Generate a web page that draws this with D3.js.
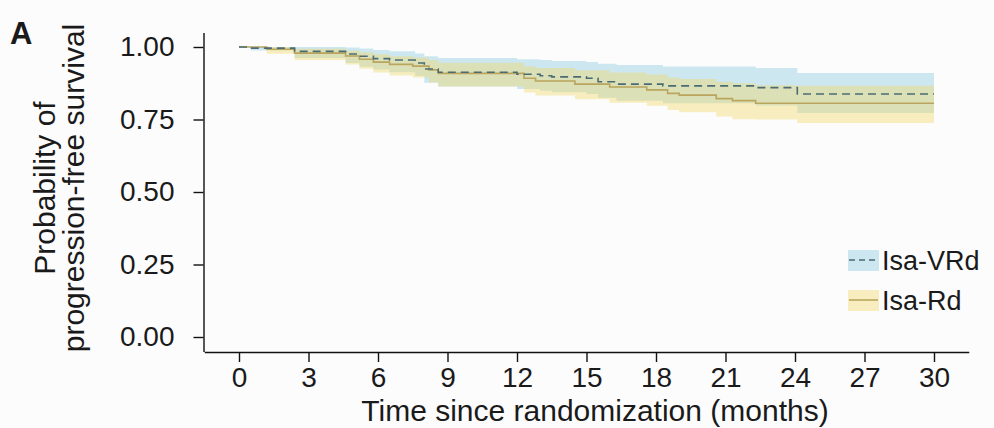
<!DOCTYPE html>
<html>
<head>
<meta charset="utf-8">
<script src="https://cdn.jsdelivr.net/npm/d3@7"></script>
<style>
  html, body { margin: 0; padding: 0; background: #fcfcfd; }
  svg { display: block; }
  text { font-family: "Liberation Sans", Arial, Helvetica, sans-serif; fill: #1a1a1a; }
</style>
</head>
<body>
<div id="chart"></div>
<script>
// ---- Data ----
const xTicks = [0, 3, 6, 9, 12, 15, 18, 21, 24, 27, 30];
const yTicks = [0, 0.25, 0.5, 0.75, 1];
const seriesNames = ["Isa-VRd", "Isa-Rd"];

const vrdTime  = [0, 0.5, 2.4, 4.6, 5.2, 5.8, 6.5, 7.6, 8.0, 8.6, 12.0, 13.0, 13.5, 15.0, 15.5, 16.3, 18.3, 22.3, 24.1, 30];
const vrdSurv  = [1, 0.996, 0.985, 0.976, 0.968, 0.960, 0.955, 0.945, 0.924, 0.913, 0.906, 0.901, 0.897, 0.892, 0.880, 0.872, 0.866, 0.860, 0.838, 0.838];
const vrdLower = [1, 0.988, 0.962, 0.945, 0.932, 0.922, 0.913, 0.900, 0.877, 0.864, 0.855, 0.849, 0.844, 0.838, 0.825, 0.815, 0.806, 0.798, 0.772, 0.772];
const vrdUpper = [1, 1, 1, 0.998, 0.995, 0.990, 0.985, 0.978, 0.968, 0.962, 0.958, 0.955, 0.952, 0.948, 0.942, 0.938, 0.933, 0.928, 0.910, 0.910];

const rdTime  = [0, 1.2, 2.4, 4.6, 5.2, 5.8, 6.5, 7.5, 8.2, 8.6, 12.3, 12.8, 14.5, 16.0, 17.6, 18.5, 19.0, 20.6, 21.3, 22.3, 24.1, 30];
const rdSurv  = [1, 0.992, 0.979, 0.969, 0.958, 0.948, 0.940, 0.934, 0.921, 0.909, 0.892, 0.883, 0.872, 0.862, 0.852, 0.840, 0.834, 0.822, 0.815, 0.806, 0.806, 0.806];
const rdLower = [1, 0.977, 0.955, 0.940, 0.925, 0.912, 0.902, 0.895, 0.878, 0.864, 0.843, 0.833, 0.820, 0.808, 0.797, 0.783, 0.775, 0.760, 0.751, 0.750, 0.738, 0.738];
const rdUpper = [1, 1, 0.994, 0.988, 0.982, 0.975, 0.968, 0.964, 0.955, 0.946, 0.934, 0.928, 0.920, 0.912, 0.905, 0.895, 0.890, 0.880, 0.875, 0.868, 0.866, 0.866];

// ---- Layout ----
const W = 994, H = 428;
const svg = d3.select("#chart").append("svg").attr("width", W).attr("height", H);
svg.append("rect").attr("width", W).attr("height", H).attr("fill", "#fcfcfd");

// scales with 5% expansion (ggplot style)
const x = d3.scaleLinear().domain([-1.5, 31.5]).range([204.25, 968.75]);
const y = d3.scaleLinear().domain([-0.05, 1.05]).range([351.5, 32.5]);

const rows = (t, s, lo, hi) => t.map((d, i) => ({ t: d, s: s[i], lo: lo[i], hi: hi[i] }));
const series = [
  { name: seriesNames[0], data: rows(vrdTime, vrdSurv, vrdLower, vrdUpper), line: "#4b6b74", fill: "#86c8de", dash: "8,5" },
  { name: seriesNames[1], data: rows(rdTime, rdSurv, rdLower, rdUpper), line: "#b9a55e", fill: "#efd65e", dash: null }
];

const area = d3.area().curve(d3.curveStepAfter).x(d => x(d.t)).y0(d => y(d.lo)).y1(d => y(d.hi));
const line = d3.line().curve(d3.curveStepAfter).x(d => x(d.t)).y(d => y(d.s));

const plot = svg.append("g");
series.forEach(s => {
  plot.append("path").attr("d", area(s.data)).attr("fill", s.fill).attr("fill-opacity", 0.4);
});
series.slice().reverse().forEach(s => {
  plot.append("path").attr("d", line(s.data)).attr("fill", "none")
    .attr("stroke", s.line).attr("stroke-width", 1.6)
    .attr("stroke-dasharray", s.dash);
});

// ---- Axes ----
const yAxis = svg.append("g").attr("transform", "translate(203.5,0)")
  .call(d3.axisLeft(y).tickValues(yTicks).tickFormat(d3.format(".2f")).tickSize(10).tickSizeOuter(0).tickPadding(19));
const xAxis = svg.append("g").attr("transform", "translate(0,352)")
  .call(d3.axisBottom(x).tickValues(xTicks).tickSize(10).tickSizeOuter(0).tickPadding(5));
[yAxis, xAxis].forEach(a => {
  a.selectAll("path, line").attr("stroke", "#111").attr("stroke-width", 1.4);
  a.selectAll("text").attr("font-size", 28).attr("fill", "#1a1a1a")
    .attr("font-family", "'Liberation Sans', Arial, sans-serif");
});

// axis titles
svg.append("text").attr("x", 595).attr("y", 421).attr("text-anchor", "middle")
  .attr("font-size", 30).text("Time since randomization (months)");

const yt = svg.append("text").attr("transform", "translate(0,188) rotate(-90)")
  .attr("text-anchor", "middle").attr("font-size", 30);
yt.append("tspan").attr("x", 0).attr("y", 55).text("Probability of");
yt.append("tspan").attr("x", 0).attr("y", 84).text("progression-free survival");

// panel letter
svg.append("text").attr("x", 10).attr("y", 44).attr("font-size", 31).attr("font-weight", "bold").text("A");

// ---- Legend ----
const leg = svg.append("g");
series.forEach((s, i) => {
  const gy = 250 + i * 40;
  leg.append("rect").attr("x", 848).attr("y", gy).attr("width", 31).attr("height", 21)
    .attr("fill", s.fill).attr("fill-opacity", 0.4);
  leg.append("line").attr("x1", 849).attr("x2", 878).attr("y1", gy + 10).attr("y2", gy + 10)
    .attr("stroke", s.line).attr("stroke-width", 1.6).attr("stroke-dasharray", s.dash ? "6,4" : null);
  leg.append("text").attr("x", 882).attr("y", gy + 20).attr("font-size", 27).text(s.name);
});
</script>
</body>
</html>
